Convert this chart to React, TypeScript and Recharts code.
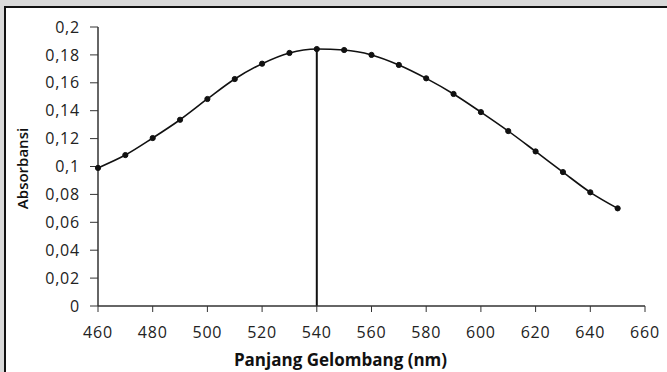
import React from "react";
import { LineChart, Line, XAxis, YAxis, ReferenceLine, Label } from "recharts";

const wavelengths = [460, 470, 480, 490, 500, 510, 520, 530, 540, 550, 560, 570, 580, 590, 600, 610, 620, 630, 640, 650];
const absorbance = [0.099, 0.1082, 0.1204, 0.1335, 0.1484, 0.1627, 0.1737, 0.1814, 0.1842, 0.1835, 0.18, 0.1728, 0.1632, 0.152, 0.139, 0.1254, 0.1108, 0.096, 0.0815, 0.07];
const xTicks = [460, 480, 500, 520, 540, 560, 580, 600, 620, 640, 660];
const yTicks = [0, 0.02, 0.04, 0.06, 0.08, 0.1, 0.12, 0.14, 0.16, 0.18, 0.2];
const peakX = 540;
const peakY = 0.1842;

const data = wavelengths.map((w, i) => ({ w, a: absorbance[i] }));

const fmt = (v: number) => String(v).replace(".", ",");

const tickStyle = { fontFamily: "Open Sans", fontSize: 16, fill: "#222", letterSpacing: 0.8 };

const XTitle = (props: any) => {
  const vb = props.viewBox || {};
  const cx = (vb.x || 0) + (vb.width || 0) / 2 - 31;
  return (
    <text x={cx} y={366} textAnchor="middle" style={{ fontFamily: "Open Sans", fontSize: 17, fontWeight: 700, fill: "#111" }}>
      Panjang Gelombang (nm)
    </text>
  );
};

export default function App() {
  return (
    <div style={{ position: "absolute", left: 0, top: 0, width: 667, height: 372, background: "#d9d9d9", overflow: "hidden" }}>
      <div style={{ position: "absolute", left: 4, top: 6, width: 663, height: 366, background: "#fff", borderLeft: "2px solid #111", borderTop: "2px solid #111" }} />
      <div style={{ position: "absolute", left: 0, top: 0 }}>
        <LineChart width={667} height={372} data={data} margin={{ top: 27, right: 22, bottom: 0, left: 0 }}>
          <XAxis
            dataKey="w"
            type="number"
            domain={[460, 660]}
            ticks={xTicks}
            tickSize={6}
            tickMargin={15}
            height={66}
            stroke="#333"
            tick={tickStyle}
            tickLine={{ stroke: "#333" }}
            axisLine={{ stroke: "#333", strokeWidth: 1.5 }}
          >
            <Label content={<XTitle />} />
          </XAxis>
          <YAxis
            type="number"
            domain={[0, 0.2]}
            ticks={yTicks}
            tickFormatter={fmt}
            width={98}
            tickSize={8}
            tickMargin={10}
            stroke="#333"
            tick={tickStyle}
            tickLine={{ stroke: "#333" }}
            axisLine={{ stroke: "#333", strokeWidth: 1.5 }}
          >
            <Label value="Absorbansi" angle={-90} position="insideLeft" offset={23} dy={2} style={{ fontFamily: "Open Sans", fontSize: 15, fontWeight: 600, fill: "#111", textAnchor: "middle" }} />
          </YAxis>
          <ReferenceLine segment={[{ x: peakX, y: 0 }, { x: peakX, y: peakY }]} stroke="#111" strokeWidth={2} />
          <Line
            type="monotone"
            dataKey="a"
            stroke="#111"
            strokeWidth={1.6}
            dot={{ r: 2.6, fill: "#111", stroke: "#111", strokeWidth: 1 }}
            isAnimationActive={false}
          />
        </LineChart>
      </div>
    </div>
  );
}
